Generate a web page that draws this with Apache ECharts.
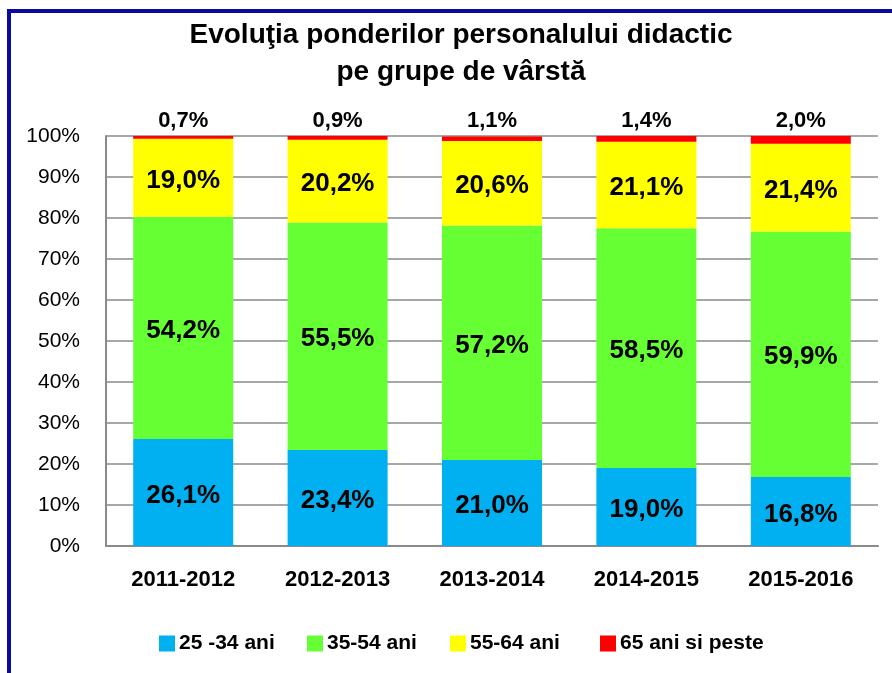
<!DOCTYPE html>
<html>
<head>
<meta charset="utf-8">
<script src="https://cdn.jsdelivr.net/npm/echarts@6/dist/echarts.min.js"></script>
<style>
  html, body { margin: 0; padding: 0; background: #fff; }
  #chart { width: 892px; height: 673px; }
</style>
</head>
<body>
<div id="chart"></div>
<script>
// School years and the share (%) of teaching staff in each age group
const years = ['2011-2012', '2012-2013', '2013-2014', '2014-2015', '2015-2016'];
const groupNames = ['25 -34 ani', '35-54 ani', '55-64 ani', '65 ani si peste'];
const age25to34 = [26.1, 23.4, 21.0, 19.0, 16.8];
const age35to54 = [54.2, 55.5, 57.2, 58.5, 59.9];
const age55to64 = [19.0, 20.2, 20.6, 21.1, 21.4];
const age65plus = [0.7, 0.9, 1.1, 1.4, 2.0];
const yTicks = [0, 10, 20, 30, 40, 50, 60, 70, 80, 90, 100];

const FONT = '"Liberation Sans Narrow", "Arial Narrow", "Liberation Sans", Arial, sans-serif';
const colors = ['#00B0F0', '#66FF33', '#FFFF00', '#FF0000'];
const pct = v => v.toFixed(1).replace('.', ',') + '%';

const seriesData = [age25to34, age35to54, age55to64, age65plus];

// one legend block per age group, each placed on its own
const legendLefts = [159, 307, 450, 600];
const legends = groupNames.map((name, i) => ({
  data: [name],
  left: legendLefts[i],
  top: 633,
  padding: 0,
  icon: 'rect',
  itemWidth: 16,
  itemHeight: 16,
  textStyle: { fontFamily: FONT, fontSize: 21, fontWeight: 'bold', color: '#000', padding: [0, 0, 0, -1] }
}));

const chart = echarts.init(document.getElementById('chart'), null, { renderer: 'canvas' });

chart.setOption({
  backgroundColor: '#ffffff',
  animation: false,
  textStyle: { fontFamily: FONT },
  graphic: [
    {
      type: 'rect',
      silent: true,
      shape: { x: 9, y: 11, width: 1000, height: 1000 },
      style: { fill: 'none', stroke: '#0A0A9C', lineWidth: 4 }
    },
    {
      type: 'text',
      x: 461, y: 35,
      style: {
        text: 'Evoluţia ponderilor personalului didactic',
        font: 'bold 28px ' + FONT,
        fill: '#000', textAlign: 'center', textVerticalAlign: 'middle'
      }
    },
    {
      type: 'text',
      x: 461, y: 72,
      style: {
        text: 'pe grupe de vârstă',
        font: 'bold 28px ' + FONT,
        fill: '#000', textAlign: 'center', textVerticalAlign: 'middle'
      }
    }
  ],
  grid: { left: 106, right: 14, top: 136, bottom: 127, containLabel: false },
  legend: legends,
  xAxis: {
    type: 'category',
    data: years,
    axisLine: { show: true, lineStyle: { color: '#8a8a8a', width: 2 } },
    axisTick: { show: false },
    axisLabel: { color: '#000', fontSize: 22, fontWeight: 'bold', margin: 23, fontFamily: FONT }
  },
  yAxis: {
    type: 'value',
    min: yTicks[0],
    max: yTicks[yTicks.length - 1],
    interval: yTicks[1] - yTicks[0],
    axisLine: { show: true, lineStyle: { color: '#8a8a8a', width: 2 } },
    axisTick: { show: false },
    axisLabel: { color: '#000', fontSize: 21, margin: 26, fontFamily: FONT, formatter: '{value}%' },
    splitLine: { show: true, lineStyle: { color: '#8a8a8a', width: 1.5 } }
  },
  series: seriesData.map((vals, i) => ({
    name: groupNames[i],
    type: 'bar',
    stack: 'total',
    barWidth: 100,
    data: vals,
    itemStyle: { color: colors[i] },
    label: {
      show: true,
      position: i === 3 ? 'top' : 'inside',
      distance: 4,
      offset: i === 3 ? [0, 0] : [0, 3],
      color: '#000',
      fontWeight: 'bold',
      fontFamily: FONT,
      fontSize: i === 3 ? 22 : 26,
      formatter: p => pct(p.value)
    }
  }))
});
</script>
</body>
</html>
